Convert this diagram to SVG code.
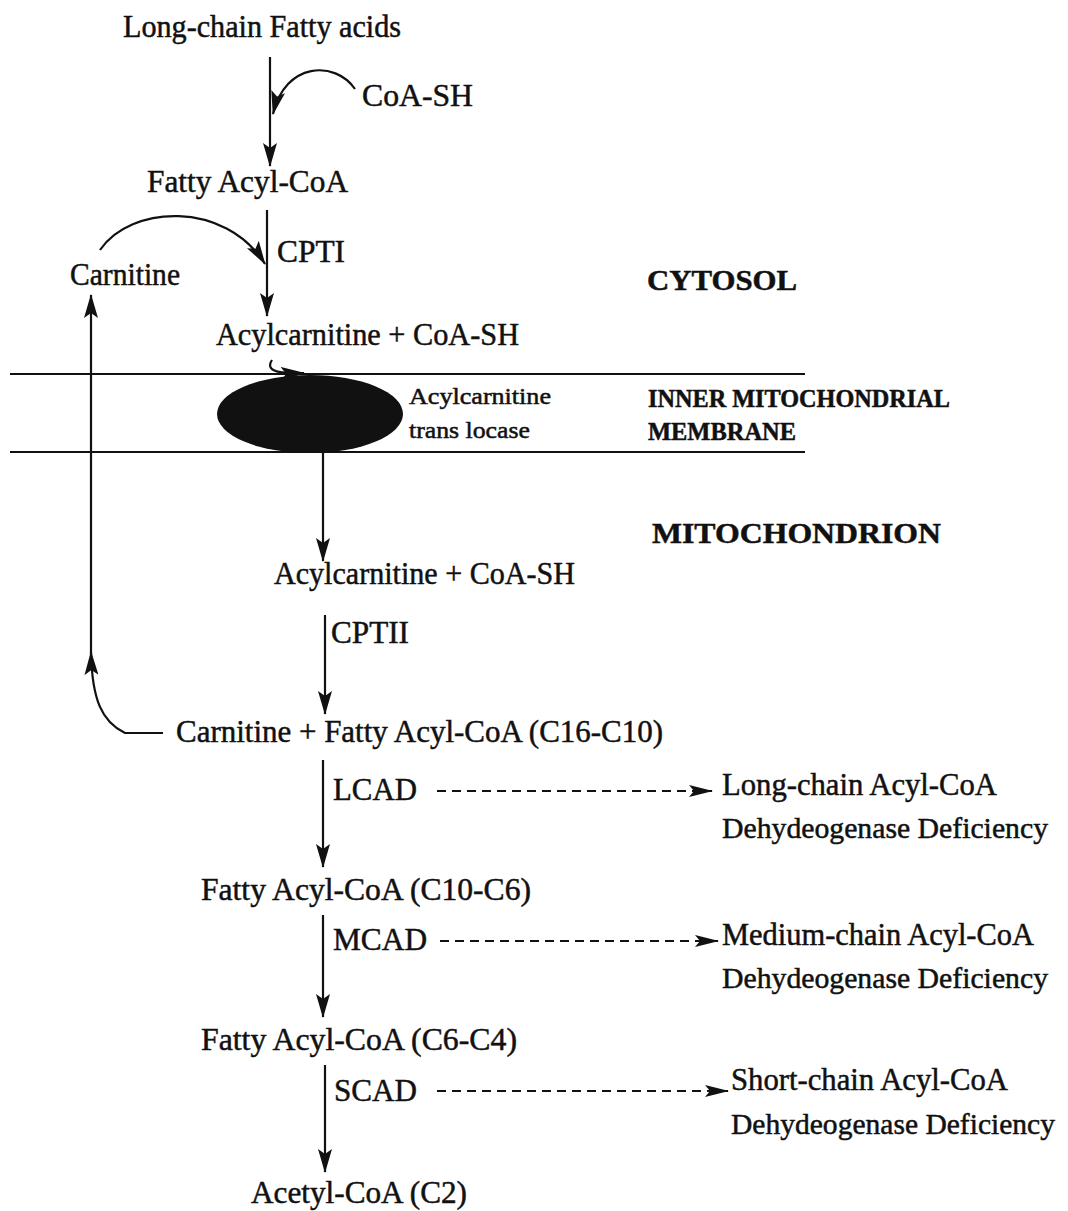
<svg xmlns="http://www.w3.org/2000/svg" width="1068" height="1211" viewBox="0 0 1068 1211">
<defs>
<style>
text{font-family:"Liberation Serif","Times New Roman",serif;fill:#111;stroke:#111;stroke-width:0.5;}
.t{font-size:32px;}
.d{font-size:30px;}
.b{font-size:30px;font-weight:bold;}
.s{font-size:23px;}
.sb{font-size:25px;font-weight:bold;}
.ln{stroke:#111;stroke-width:2.2;fill:none;}
.dash{stroke:#111;stroke-width:2.2;fill:none;stroke-dasharray:9,6;}
</style>
<marker id="ah" viewBox="0 0 24 14" refX="23" refY="7" markerWidth="24" markerHeight="14" markerUnits="userSpaceOnUse" orient="auto">
<path d="M0,0 L24,7 L0,14 L5,7 z" fill="#111"/>
</marker>
<marker id="ahs" viewBox="0 0 24 12" refX="23" refY="6" markerWidth="24" markerHeight="12" markerUnits="userSpaceOnUse" orient="auto">
<path d="M0,0 L24,6 L0,12 L5,6 z" fill="#111"/>
</marker>
</defs>
<rect width="1068" height="1211" fill="#fff"/>

<g id="membrane">
<line x1="10" y1="374" x2="805" y2="374" class="ln"/>
<line x1="10" y1="452" x2="805" y2="452" class="ln"/>
<ellipse cx="310" cy="414" rx="93" ry="39" fill="#111"/>
</g>

<g id="connectors">
<line x1="270" y1="57" x2="270" y2="166" class="ln" marker-end="url(#ah)"/>
<path d="M355,89 C335,60 285,62 273,114" class="ln" marker-end="url(#ah)"/>
<line x1="267" y1="210" x2="267" y2="316" class="ln" marker-end="url(#ah)"/>
<path d="M100,250 C130,205 225,200 265,264" class="ln" marker-end="url(#ah)"/>
<path d="M272,360 C264,372 282,374 304,373" class="ln" marker-end="url(#ah)"/>
<line x1="91" y1="660" x2="91" y2="295" class="ln" marker-end="url(#ah)"/>
<path d="M163,733 L125,733 C102,722 92,700 91,652" class="ln" marker-end="url(#ah)"/>
<line x1="323" y1="452" x2="323" y2="561" class="ln" marker-end="url(#ah)"/>
<line x1="325" y1="615" x2="325" y2="714" class="ln" marker-end="url(#ah)"/>
<line x1="323" y1="760" x2="323" y2="867" class="ln" marker-end="url(#ah)"/>
<line x1="323" y1="915" x2="323" y2="1017" class="ln" marker-end="url(#ah)"/>
<line x1="325" y1="1065" x2="325" y2="1172" class="ln" marker-end="url(#ah)"/>
<line x1="437" y1="791" x2="712" y2="791" class="dash" marker-end="url(#ahs)"/>
<line x1="440" y1="941" x2="718" y2="941" class="dash" marker-end="url(#ahs)"/>
<line x1="437" y1="1091" x2="728" y2="1091" class="dash" marker-end="url(#ahs)"/>
</g>

<g id="n-lcfa"><text class="t" x="123" y="37" textLength="278" lengthAdjust="spacingAndGlyphs">Long-chain Fatty acids</text></g>
<g id="n-coash1"><text class="t" x="362" y="106" textLength="111" lengthAdjust="spacingAndGlyphs">CoA-SH</text></g>
<g id="n-fattyacylcoa"><text class="t" x="147" y="192" textLength="201" lengthAdjust="spacingAndGlyphs">Fatty Acyl-CoA</text></g>
<g id="n-cpti"><text class="t" x="277" y="262" textLength="68" lengthAdjust="spacingAndGlyphs">CPTI</text></g>
<g id="n-carnitine"><text class="t" x="70" y="285" textLength="110" lengthAdjust="spacingAndGlyphs">Carnitine</text></g>
<g id="n-cytosol"><text class="b" x="647" y="290" textLength="150" lengthAdjust="spacingAndGlyphs">CYTOSOL</text></g>
<g id="n-acyl1"><text class="t" x="216" y="345" textLength="303" lengthAdjust="spacingAndGlyphs">Acylcarnitine + CoA-SH</text></g>
<g id="n-translocase">
<text class="s" x="409" y="404" textLength="142" lengthAdjust="spacingAndGlyphs">Acylcarnitine</text>
<text class="s" x="409" y="438" textLength="121" lengthAdjust="spacingAndGlyphs">trans locase</text>
</g>
<g id="n-imm">
<text class="sb" x="648" y="407" textLength="302" lengthAdjust="spacingAndGlyphs">INNER MITOCHONDRIAL</text>
<text class="sb" x="648" y="440" textLength="148" lengthAdjust="spacingAndGlyphs">MEMBRANE</text>
</g>
<g id="n-mito"><text class="b" x="652" y="543" textLength="289" lengthAdjust="spacingAndGlyphs">MITOCHONDRION</text></g>
<g id="n-acyl2"><text class="t" x="274" y="584" textLength="301" lengthAdjust="spacingAndGlyphs">Acylcarnitine + CoA-SH</text></g>
<g id="n-cptii"><text class="t" x="331" y="643" textLength="78" lengthAdjust="spacingAndGlyphs">CPTII</text></g>
<g id="n-c16"><text class="t" x="176" y="742" textLength="487" lengthAdjust="spacingAndGlyphs">Carnitine + Fatty Acyl-CoA (C16-C10)</text></g>
<g id="n-lcad"><text class="t" x="333" y="800" textLength="84" lengthAdjust="spacingAndGlyphs">LCAD</text></g>
<g id="n-lcadd">
<text class="t" x="722" y="795" textLength="275" lengthAdjust="spacingAndGlyphs">Long-chain Acyl-CoA</text>
<text class="d" x="722" y="838" textLength="326" lengthAdjust="spacingAndGlyphs">Dehydeogenase Deficiency</text>
</g>
<g id="n-c10"><text class="t" x="201" y="900" textLength="330" lengthAdjust="spacingAndGlyphs">Fatty Acyl-CoA (C10-C6)</text></g>
<g id="n-mcad"><text class="t" x="333" y="950" textLength="94" lengthAdjust="spacingAndGlyphs">MCAD</text></g>
<g id="n-mcadd">
<text class="t" x="722" y="945" textLength="312" lengthAdjust="spacingAndGlyphs">Medium-chain Acyl-CoA</text>
<text class="d" x="722" y="988" textLength="326" lengthAdjust="spacingAndGlyphs">Dehydeogenase Deficiency</text>
</g>
<g id="n-c6"><text class="t" x="201" y="1050" textLength="316" lengthAdjust="spacingAndGlyphs">Fatty Acyl-CoA (C6-C4)</text></g>
<g id="n-scad"><text class="t" x="334" y="1101" textLength="83" lengthAdjust="spacingAndGlyphs">SCAD</text></g>
<g id="n-scadd">
<text class="t" x="731" y="1090" textLength="277" lengthAdjust="spacingAndGlyphs">Short-chain Acyl-CoA</text>
<text class="d" x="731" y="1134" textLength="324" lengthAdjust="spacingAndGlyphs">Dehydeogenase Deficiency</text>
</g>
<g id="n-acetyl"><text class="t" x="251" y="1203" textLength="216" lengthAdjust="spacingAndGlyphs">Acetyl-CoA (C2)</text></g>
</svg>
